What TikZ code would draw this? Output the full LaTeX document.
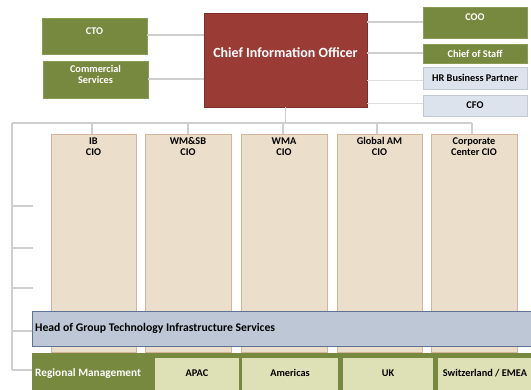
\documentclass[tikz,border=0pt]{standalone}
\usepackage{fontspec}
\setmainfont{Carlito}
\definecolor{ogreen}{HTML}{77893F}
\definecolor{ogreenb}{HTML}{8A9B55}
\definecolor{cred}{HTML}{9A3B36}
\definecolor{colfill}{HTML}{EBDECB}
\definecolor{coldraw}{HTML}{D4B59C}
\definecolor{hrfill}{HTML}{DDE3EC}
\definecolor{hrdraw}{HTML}{C3CAD6}
\definecolor{headfill}{HTML}{BEC7D6}
\definecolor{headdraw}{HTML}{5F7394}
\definecolor{regsub}{HTML}{DEE1B5}
\definecolor{lgray}{HTML}{CFCFCF}
\tikzset{
  box/.style={rectangle, inner sep=0pt, line width=0.8pt},
  greenbox/.style={box, fill=ogreen, draw=ogreenb},
  hrbox/.style={box, fill=hrfill, draw=hrdraw},
  colbox/.style={box, fill=colfill, draw=coldraw, line width=1pt},
  subbox/.style={box, fill=regsub},
  wtxt/.style={text=white, font=\bfseries\fontsize{10.3}{11}\selectfont, align=center, inner sep=0pt},
  btxt/.style={text=black, font=\bfseries\fontsize{10.3}{11}\selectfont, align=center, inner sep=0pt},
  conn/.style={draw=lgray, line width=1.3pt},
  connl/.style={draw=lgray!70, line width=0.8pt},
}
\begin{document}
\begin{tikzpicture}[x=1pt,y=-1pt]
\useasboundingbox (0,0) rectangle (531,389);
\fill[white] (0,0) rectangle (531,389);
% top level boxes
\node[box, fill=cred, draw=cred!80!black, minimum width=163pt, minimum height=94pt] (cio) at (285.5,60) {};
\node[text=white, font=\bfseries\fontsize{14}{15}\selectfont, inner sep=0pt] (ciot) at (285.5,53) {Chief Information Officer};
\node[greenbox, minimum width=105pt, minimum height=36pt] (cto) at (94.5,36) {};
\node[wtxt, anchor=center] (ctot) at (94.5,31) {CTO};
\node[greenbox, minimum width=105pt, minimum height=37pt] (com) at (95.5,79.5) {};
\node[wtxt] (comt) at (95.5,74.5) {Commercial\\Services};
\node[greenbox, minimum width=104pt, minimum height=31pt] (coo) at (475,22.5) {};
\node[wtxt] (coot) at (475,17) {COO};
\node[greenbox, minimum width=104pt, minimum height=19pt] (cos) at (475,53.5) {};
\node[wtxt] (cost) at (475,53.5) {Chief of Staff};
\node[hrbox, minimum width=104pt, minimum height=22pt] (hr) at (475,78) {};
\node[btxt] (hrt) at (475,78) {HR Business Partner};
\node[hrbox, minimum width=104pt, minimum height=21pt] (cfo) at (475,105.5) {};
\node[btxt] (cfot) at (475,105.5) {CFO};
% side connectors
\draw[conn] (cto.east |- 0,35) -- (cio.west |- 0,35);
\draw[conn] (com.east |- 0,79) -- (cio.west |- 0,79);
\draw[conn] (cio.east |- 0,22) -- (coo.west |- 0,22);
\draw[conn] (cio.east |- 0,53) -- (cos.west |- 0,53);
\draw[connl] (cio.east |- 0,80) -- (hr.west |- 0,80);
\draw[connl] (cio.east |- 0,103) -- (cfo.west |- 0,103);
% columns
\node[colbox, minimum width=85pt, minimum height=218pt] (ib) at (93.5,243) {};
\node[colbox, minimum width=86pt, minimum height=218pt] (wm) at (188,243) {};
\node[colbox, minimum width=86pt, minimum height=218pt] (wma) at (284,243) {};
\node[colbox, minimum width=85pt, minimum height=218pt] (gam) at (379.5,243) {};
\node[colbox, minimum width=86pt, minimum height=218pt] (cc) at (474,243) {};
\node[btxt, anchor=north] (ibt) at (93.5,137.5) {IB\\CIO};
\node[btxt, anchor=north] (wmt) at (188,137.5) {WM\&SB\\CIO};
\node[btxt, anchor=north] (wmat) at (284,137.5) {WMA\\CIO};
\node[btxt, anchor=north] (gamt) at (379.5,137.5) {Global AM\\CIO};
\node[btxt, anchor=north] (cct) at (474,137.5) {Corporate\\Center CIO};
% tree
\coordinate (busl) at (12,123);
\coordinate (busr) at (472,123);
\draw[conn] (cio.south) -- (cio.south |- busl);
\draw[conn] (busl) -- (busr);
\foreach \c/\xx in {ib/92,wm/188,wma/283,gam/377,cc/472}{
  \draw[conn] (\xx,123) -- (\c.north -| \xx,0);
}
% bottom bars
\node[box, fill=headfill, draw=headdraw, line width=1pt, minimum width=502pt, minimum height=35pt, anchor=north west] (head) at (32,311) {};
\node[btxt, anchor=west, font=\bfseries\fontsize{11.7}{13}\selectfont] (headt) at (35,328.5) {Head of Group Technology Infrastructure Services};
\node[box, fill=ogreen, minimum width=502pt, minimum height=40pt, anchor=north west] (reg) at (32,353) {};
\node[wtxt, anchor=west, font=\bfseries\fontsize{11.3}{12}\selectfont] (regt) at (35,373) {Regional Management};
\node[subbox, minimum width=84pt, minimum height=35pt, anchor=north west] (apac) at (155,358) {};
\node[subbox, minimum width=96pt, minimum height=35pt, anchor=north west] (amer) at (242,358) {};
\node[subbox, minimum width=90pt, minimum height=35pt, anchor=north west] (uk) at (343,358) {};
\node[subbox, minimum width=96pt, minimum height=35pt, anchor=north west] (emea) at (438,358) {};
\node[btxt] (apact) at (197,373) {APAC};
\node[btxt] (amert) at (290,373) {Americas};
\node[btxt] (ukt) at (388,373) {UK};
\node[btxt] (emeat) at (485,373) {Switzerland / EMEA};
% left tree
\draw[conn] (busl) -- (12,370);
\foreach \yy in {206,248,288}{
  \draw[conn] (12,\yy) -- (33,\yy);
}
\draw[conn] (12,331) -- (head.west |- 0,331);
\draw[conn] (12,370) -- (reg.west |- 0,370);
\end{tikzpicture}
\end{document}
